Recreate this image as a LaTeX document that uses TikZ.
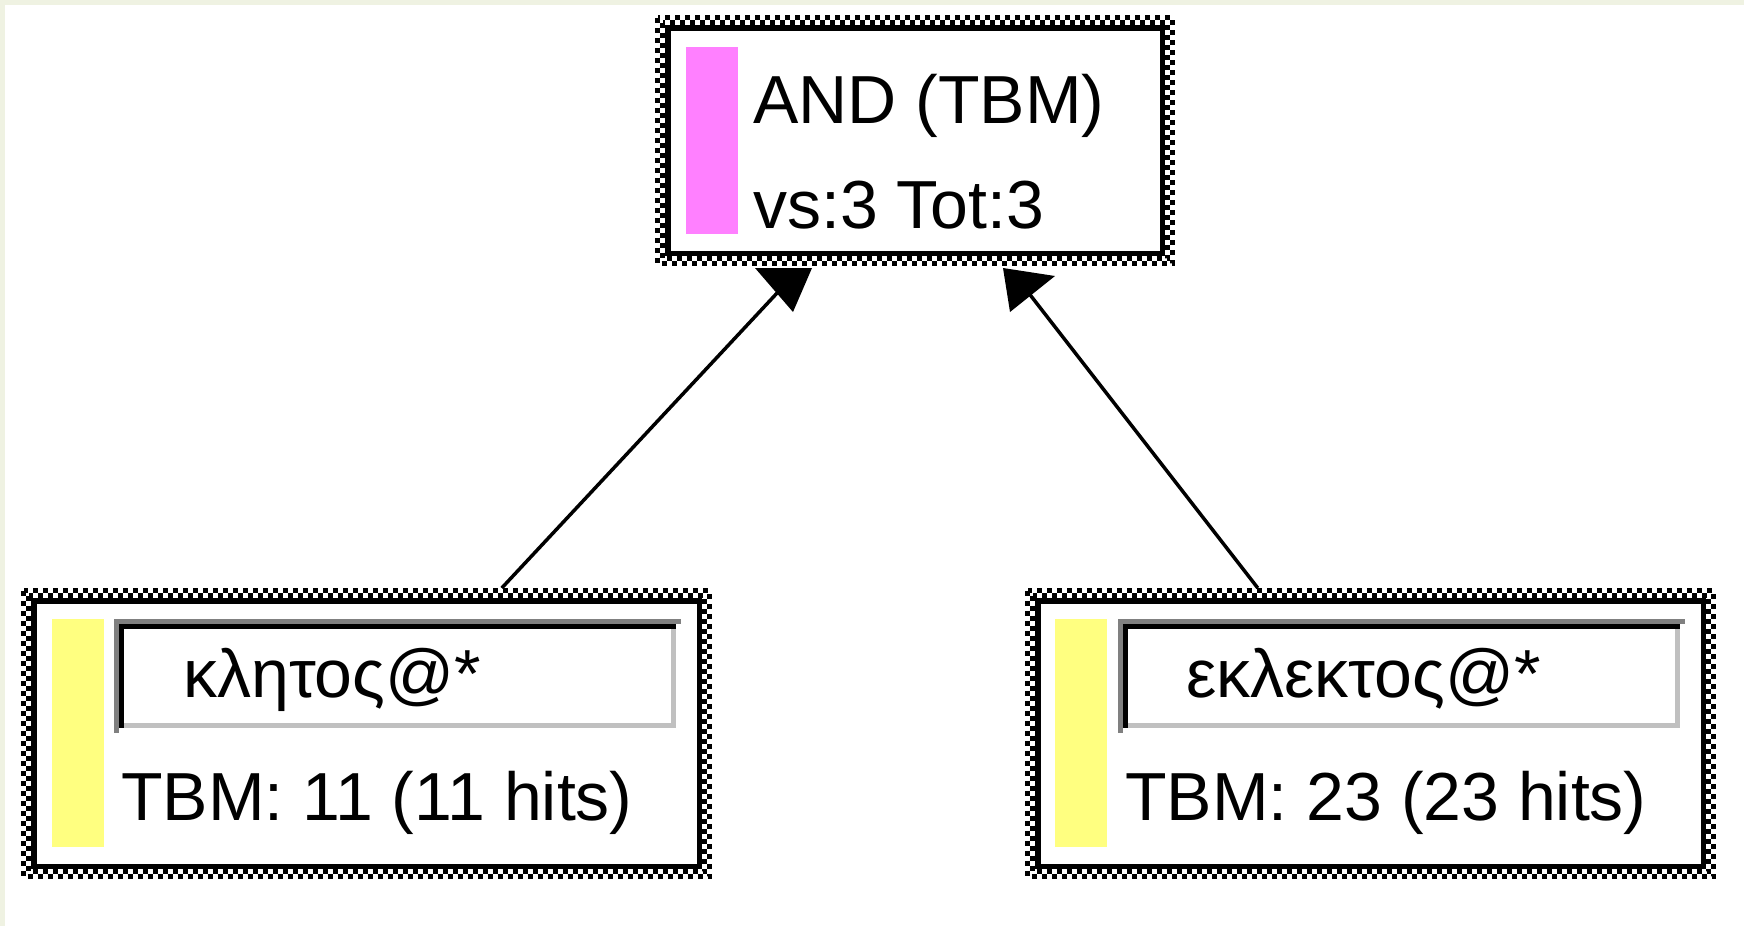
\documentclass[tikz,border=0pt]{standalone}
\usepackage{fontspec}
\setmainfont{Liberation Sans}
\usetikzlibrary{calc}
\definecolor{pinkbar}{HTML}{FF80FF}
\definecolor{yellowbar}{HTML}{FFFF80}
\definecolor{darkedge}{HTML}{808080}
\definecolor{lightedge}{HTML}{C0C0C0}
\definecolor{stripc}{HTML}{EFF2E2}
\newcommand\chkrows[1]{%
  \draw[chk] ($(#1.north west)+(2.5pt,-2.5pt)$) rectangle ($(#1.south east)+(-2.5pt,2.5pt)$);
  \draw[chk] ($(#1.north west)+(7.5pt,-7.5pt)$) rectangle ($(#1.south east)+(-7.5pt,7.5pt)$);}
\newcommand\sunkenfield{%
  \fill[lightedge] (5,723) rectangle (562,728);
  \fill[lightedge] (557,624) rectangle (562,728);
  \fill[darkedge] (0,619) rectangle (567,624);
  \fill[darkedge] (0,619) rectangle (5,733);
  \fill[black] (5,624) rectangle (562,629);
  \fill[black] (5,624) rectangle (10,728);}
\begin{document}
\begin{tikzpicture}[x=1pt,y=-1pt,
  box/.style={draw=black,fill=white,line width=5.5pt,outer sep=12.75pt,inner sep=0pt,
    minimum width=665.5pt,minimum height=265.5pt},
  chk/.style={draw=black,line width=5pt,dash pattern=on 5pt off 5pt},
  lbl/.style={anchor=base west,inner sep=0pt,text=black,font=\fontsize{68}{80}\selectfont},
  edge/.style={draw=black,line width=3.5pt},
  ahead/.style={fill=black}]
\useasboundingbox (0,0) rectangle (1744,926);
\fill[white] (0,0) rectangle (1744,926);
\fill[stripc] (0,0) rectangle (1744,5);
\fill[stripc] (0,0) rectangle (5,926);

% boxes
\node[box,minimum width=494.5pt,minimum height=225.5pt] (and) at (915,140.5) {};
\node[box] (k1) at (366.5,733.5) {};
\node[box] (k2) at (1370.5,733.5) {};
\chkrows{and}
\chkrows{k1}
\chkrows{k2}

% colour bars
\fill[pinkbar] (686,47) rectangle (738,234);
\fill[yellowbar] (52,619) rectangle (104,847);
\fill[yellowbar] (1055,619) rectangle (1107,847);

% input fields
\begin{scope}[shift={(114,0)}]\sunkenfield\end{scope}
\begin{scope}[shift={(1118,0)}]\sunkenfield\end{scope}

% texts
\node[lbl] (andt) at (753,123) {AND (TBM)};
\node[lbl] (ands) at (753,228) {vs:3 Tot:3};
\node[lbl] (w1) at (183,697) {κλητος@*};
\node[lbl] (h1) at (121,820) {TBM: 11 (11 hits)};
\node[lbl] (w2) at (1186,697) {εκλεκτος@*};
\node[lbl] (h2) at (1125,820) {TBM: 23 (23 hits)};

% connectors
\coordinate (e1) at (786.7,282.7);
\coordinate (e2) at (1022.7,285.3);
\draw[edge] (k1) -- (e1);
\draw[edge] (k2) -- (e2);
\fill[ahead] (755,268) -- (812,268) -- (793,312) -- cycle;
\fill[ahead] (1003,268) -- (1055,276) -- (1010,312) -- cycle;
\end{tikzpicture}
\end{document}
